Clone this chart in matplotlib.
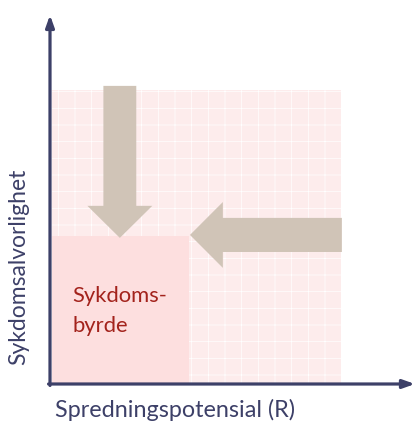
import matplotlib
matplotlib.use('Agg')
import matplotlib.pyplot as plt
from matplotlib.patches import Rectangle

# concept diagram values (units: fraction of the full potential area)
x_label = 'Spredningspotensial (R)'
y_label = 'Sykdomsalvorlighet'
burden_lines = ['Sykdoms-', 'byrde']
burden_line_y = [0.279, 0.177]
potential_size = [1.0, 1.0]        # full hatched area (spread, severity)
burden_size = [0.478, 0.503]       # actual disease burden
arrow_down = [0.24, 1.014, 0.497]  # x, y start, y end
arrow_left = [0.507, 1.003, 0.481] # y, x start, x end

navy = '#3d4068'
arrow_col = '#d0c4b7'
red = '#a3231c'

plt.rcParams['font.family'] = ['Lato', 'DejaVu Sans']
plt.rcParams['hatch.linewidth'] = 0.5

fig = plt.figure(figsize=(4.15, 4.26), dpi=100)
ax = fig.add_axes([50/415, 42/426, 365/415, 369/426])
ax.set_xlim(0, 365/291)
ax.set_ylim(0, 369/294)
ax.axis('off')

# hatched potential area
ax.add_patch(Rectangle((0.007, 0), potential_size[0] - 0.007, potential_size[1],
                       facecolor='#fdecec', edgecolor='white', hatch='+', lw=0))
# solid burden area
ax.add_patch(Rectangle((0.007, 0), burden_size[0] - 0.007, burden_size[1],
                       facecolor='#fddfdf', edgecolor='none', lw=0))

# arrows squeezing the burden
ax.arrow(arrow_down[0], arrow_down[1], 0, arrow_down[2] - arrow_down[1],
         width=0.113, head_width=0.223, head_length=0.109,
         length_includes_head=True, color=arrow_col, lw=0)
ax.arrow(arrow_left[1], arrow_left[0], arrow_left[2] - arrow_left[1], 0,
         width=0.116, head_width=0.224, head_length=0.113,
         length_includes_head=True, color=arrow_col, lw=0)

for line, yy in zip(burden_lines, burden_line_y):
    ax.text(0.076, yy, line, color=red, fontsize=15.8, va='baseline', ha='left')

# axes drawn as arrows
ax.annotate('', xy=(0, 1.255), xytext=(0, -0.005), annotation_clip=False,
            arrowprops=dict(arrowstyle='-|>,head_length=0.7,head_width=0.25',
                            color=navy, lw=2.3, shrinkA=0, shrinkB=0))
ax.annotate('', xy=(1.254, 0), xytext=(-0.005, 0), annotation_clip=False,
            arrowprops=dict(arrowstyle='-|>,head_length=0.7,head_width=0.25',
                            color=navy, lw=2.3, shrinkA=0, shrinkB=0))

fig.text(55/415, 1 - 417/426, x_label, color=navy, fontsize=16.8,
         ha='left', va='baseline')
fig.text(29/415, 1 - 267/426, y_label, color=navy, fontsize=16.5,
         rotation=90, ha='right', va='center')

fig.savefig('out.png', dpi=100)
